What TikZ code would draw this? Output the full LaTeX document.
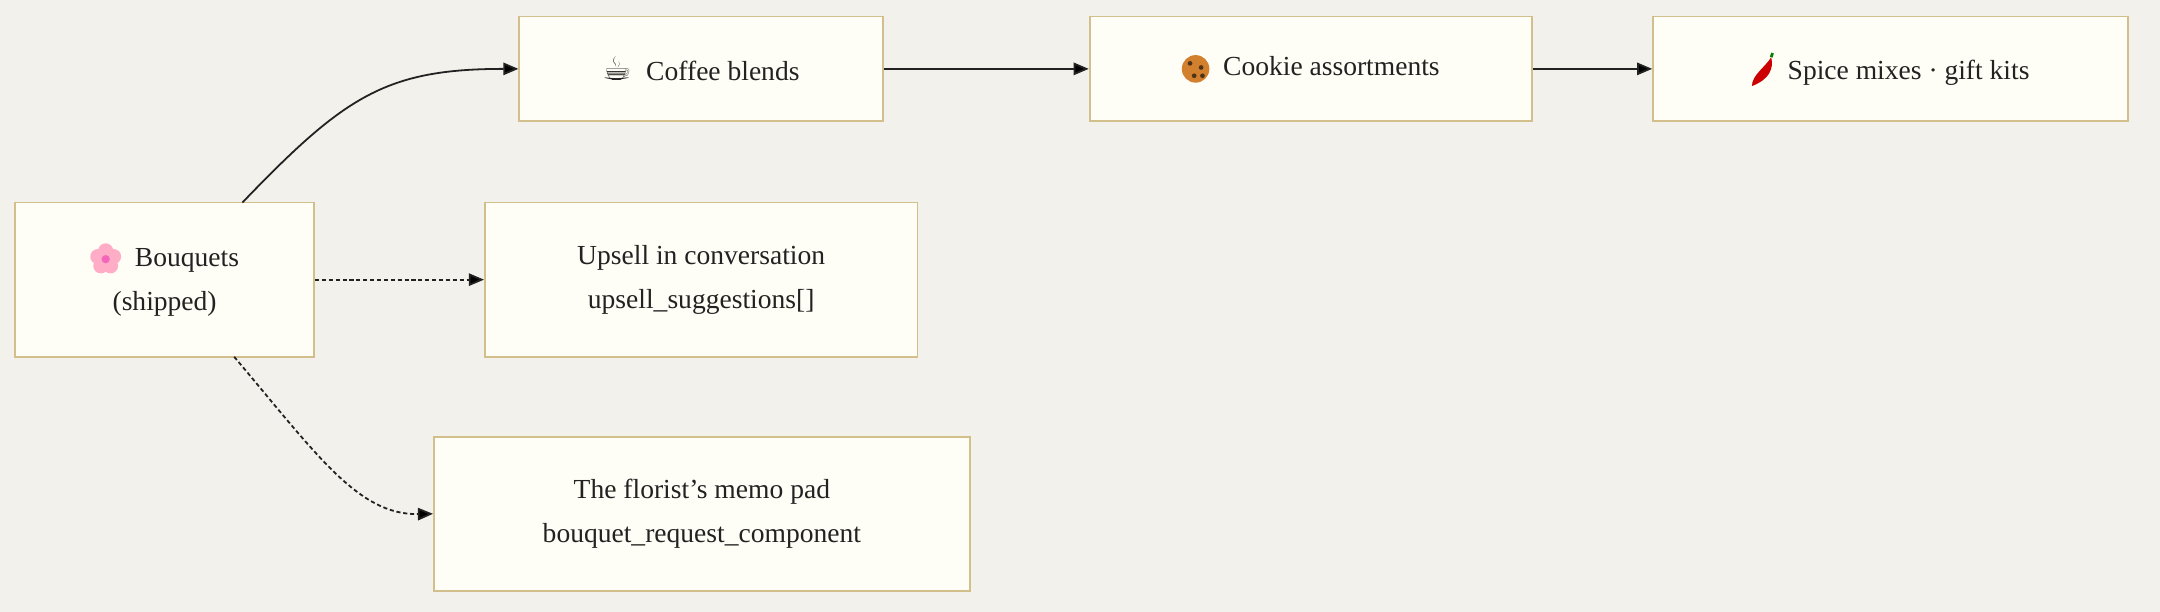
\documentclass[tikz,border=0pt]{standalone}
\usepackage{fontspec}
\setmainfont{Liberation Serif}
\newfontfamily\emo{DejaVu Sans}
\usetikzlibrary{arrows.meta}
\definecolor{bg}{HTML}{F3F1EC}
\definecolor{boxfill}{HTML}{FFFEF6}
\definecolor{boxdraw}{HTML}{D2BF8C}
\definecolor{ink}{HTML}{222222}
\begin{document}
\begin{tikzpicture}[x=1pt,y=-1pt,
  box/.style={draw=boxdraw,fill=boxfill,line width=1.3pt,inner sep=0pt,align=center,font=\fontsize{20}{32}\selectfont,text=ink},
  edge/.style={draw=ink,line width=1.3pt,-{Triangle[length=11pt,width=9pt]}},
  dashedge/.style={edge,dash pattern=on 3pt off 2pt}]
\fill[bg] (0,0) rectangle (1568,444);
\useasboundingbox (0,0) rectangle (1568,444);
\node[box,minimum width=264pt,minimum height=76pt] (coffee) at (509,50) {{\emo\fontsize{24}{24}\selectfont ☕}\ \ Coffee blends};
\node[box,minimum width=321pt,minimum height=76pt] (cookie) at (951.5,50) {\tikz[baseline=-5pt,y=1pt]{\fill[brown!70!orange] (0,0) circle (10pt);\foreach \p in {(-4,4),(4,1),(-1,-5),(5,-5)} \fill[brown!40!black] \p circle (1.7pt);}\ \ Cookie assortments};
\node[box,minimum width=345pt,minimum height=76pt] (spice) at (1372.5,50) {\tikz[baseline=-5pt,y=1pt]{\fill[red!80!black] (-8,-10) .. controls (5,-5) and (8,3) .. (6,11) .. controls (2,4) and (-8,-2) .. (-8,-10);\draw[green!50!black,line width=2pt] (6,11) -- (7,14);}\ \ Spice mixes · gift kits};
\node[box,minimum width=217pt,minimum height=112pt] (bouq) at (119.5,203) {\tikz[baseline=-5pt,y=1pt]{\foreach \a in {0,72,...,288} \fill[pink!90!magenta] (\a+90:6pt) circle (5.5pt);\fill[magenta!60!white] (0,0) circle (3pt);}\ \ Bouquets\\(shipped)};
\node[box,minimum width=314pt,minimum height=112pt] (upsell) at (509,203) {Upsell in conversation\\upsell\_suggestions[]};
\node[box,minimum width=389pt,minimum height=112pt] (memo) at (509.5,373) {The florist{\char"27}s memo pad\\bouquet\_request\_component};
\draw[edge] (176,147) .. controls (250,70) and (280,50) .. (coffee.west);
\draw[edge] (coffee.east) -- (cookie.west);
\draw[edge] (cookie.east) -- (spice.west);
\draw[dashedge] (bouq.east) -- (upsell.west);
\draw[dashedge] (170,259) .. controls (230,330) and (260,374) .. (memo.west);
\end{tikzpicture}
\end{document}
